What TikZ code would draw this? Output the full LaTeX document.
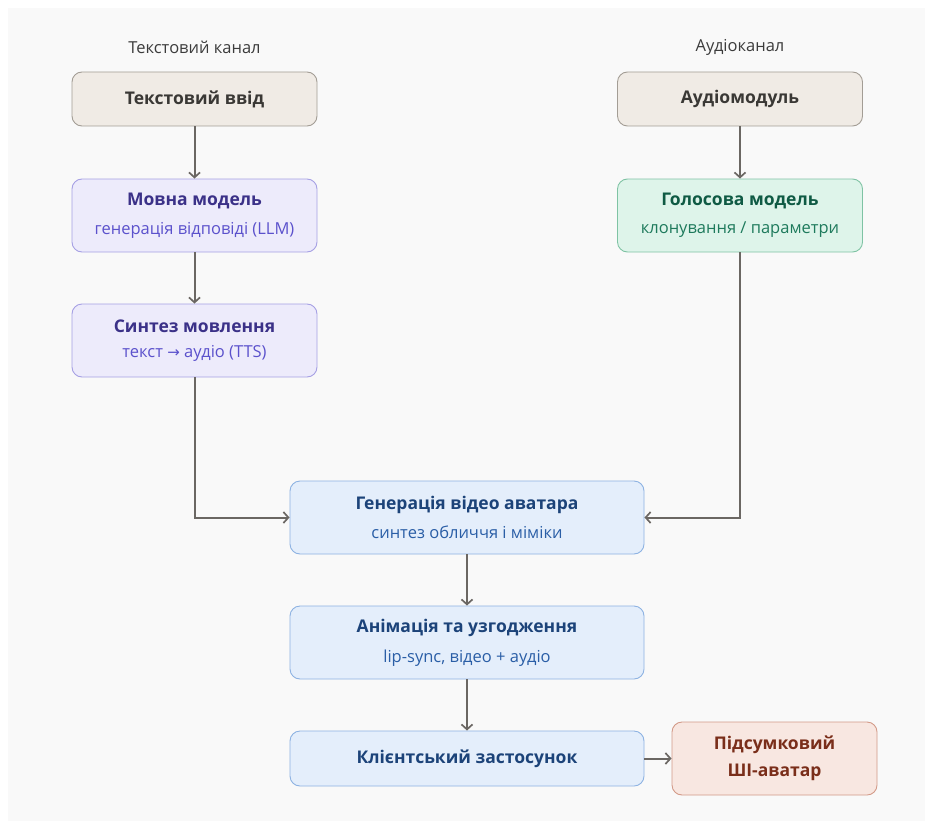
\documentclass[tikz,border=0pt]{standalone}
\usepackage{fontspec}
\setmainfont{Open Sans}
\newfontfamily\symfont{DejaVu Sans}
\usetikzlibrary{arrows.meta}

\definecolor{pagebg}{HTML}{F9F9F9}
\definecolor{linegray}{HTML}{6B6763}
\definecolor{capgray}{HTML}{3C3C3C}
\definecolor{sandfill}{HTML}{F0EBE5}
\definecolor{sanddraw}{HTML}{A39D95}
\definecolor{sandtext}{HTML}{3A3835}
\definecolor{violetfill}{HTML}{EDEBFB}
\definecolor{violetdraw}{HTML}{A6A0E4}
\definecolor{violettitle}{HTML}{3B3188}
\definecolor{violetsub}{HTML}{5B51CC}
\definecolor{greenfill}{HTML}{DEF4EA}
\definecolor{greendraw}{HTML}{7FC3A4}
\definecolor{greentitle}{HTML}{0F5A44}
\definecolor{greensub}{HTML}{1E7A5C}
\definecolor{bluefill}{HTML}{E4EEFB}
\definecolor{bluedraw}{HTML}{8DB2E2}
\definecolor{bluetitle}{HTML}{1C4379}
\definecolor{bluesub}{HTML}{2A5EA6}
\definecolor{redfill}{HTML}{F8E7E1}
\definecolor{reddraw}{HTML}{D39A88}
\definecolor{redtext}{HTML}{7A2E1A}

\newcommand{\titlefont}{\fontsize{17.5}{27}\selectfont\bfseries}
\newcommand{\subfont}{\fontsize{16.5}{20}\selectfont}

\tikzset{
  card/.style={draw, rounded corners=10pt, line width=0.9pt, align=center,
    inner sep=0pt},
  widecard/.style={card, minimum width=245pt},
  midcard/.style={card, minimum width=354pt},
  sandcard/.style={widecard, fill=sandfill, draw=sanddraw, text=sandtext,
    minimum height=54pt, font=\titlefont},
  violetcard/.style={widecard, fill=violetfill, draw=violetdraw, minimum height=73pt},
  greencard/.style={widecard, fill=greenfill, draw=greendraw, minimum height=73pt},
  bluecard/.style={midcard, fill=bluefill, draw=bluedraw, minimum height=73pt},
  redcard/.style={card, fill=redfill, draw=reddraw, text=redtext,
    minimum width=205pt, minimum height=73pt, font=\titlefont},
  caption/.style={text=capgray, font=\subfont},
  flow/.style={draw=linegray, line width=2pt,
    -{Straight Barb[length=5pt,width=11pt,line width=1.7pt]}},
}
\newcommand{\cardtext}[4]{%
  {\color{#1}\titlefont #3}\\[12pt]%
  {\color{#2}\subfont #4}}

\begin{document}
\begin{tikzpicture}[x=1pt,y=-1pt]
  % page
  \fill[white] (0,0) rectangle (925,821);
  \fill[pagebg] (8,8) rectangle (925,821);
  \useasboundingbox (0,0) rectangle (925,821);

  % lane captions
  \node[caption] (captext) at (194.5,47) {Текстовий канал};
  \node[caption] (capaudio) at (740,47) {Аудіоканал};

  % text lane
  \node[sandcard] (textin) at (194.5,99) {Текстовий ввід};
  \node[violetcard] (llm) at (194.5,215.5)
    {\cardtext{violettitle}{violetsub}{Мовна модель}{генерація відповіді (LLM)}};
  \node[violetcard] (tts) at (194.5,340.5)
    {\cardtext{violettitle}{violetsub}{Синтез мовлення}{текст {\symfont\fontsize{15}{16}\selectfont →} аудіо (TTS)}};

  % audio lane
  \node[sandcard] (audioin) at (740,99) {Аудіомодуль};
  \node[greencard] (voice) at (740,215.5)
    {\cardtext{greentitle}{greensub}{Голосова модель}{клонування / параметри}};

  % shared pipeline
  \node[bluecard] (avatar) at (467,517.5)
    {\cardtext{bluetitle}{bluesub}{Генерація відео аватара}{синтез обличчя і міміки}};
  \node[bluecard] (anim) at (467,642.5)
    {\cardtext{bluetitle}{bluesub}{Анімація та узгодження}{lip-sync, відео + аудіо}};
  \node[midcard, fill=bluefill, draw=bluedraw, text=bluetitle, minimum height=55pt,
    font=\titlefont] (client) at (467,758.5)
    {Клієнтський застосунок};
  \node[redcard] (result) at (774.5,758.5) {Підсумковий\\ШІ-аватар};

  % connectors
  \draw[flow] (textin) -- (llm);
  \draw[flow] (llm) -- (tts);
  \draw[flow] (tts.south) |- (avatar.west);
  \draw[flow] (audioin) -- (voice);
  \draw[flow] (voice.south) |- (avatar.east);
  \draw[flow] (avatar) -- (anim);
  \draw[flow] (anim) -- (client);
  \draw[flow] (client) -- (result);
\end{tikzpicture}
\end{document}
